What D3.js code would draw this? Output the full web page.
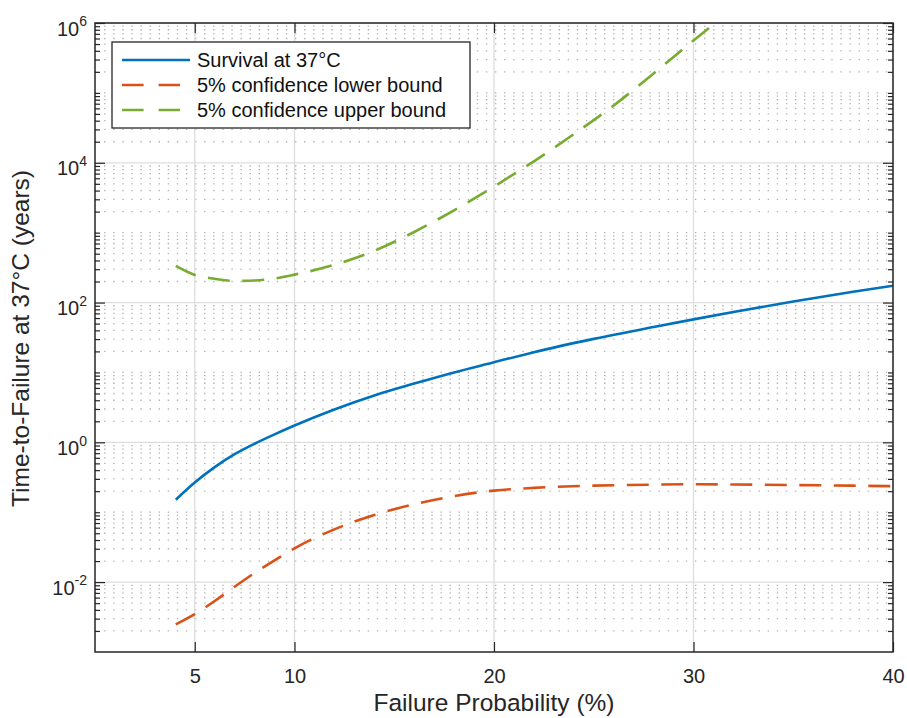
<!DOCTYPE html>
<html lang="en">
<head>
<meta charset="utf-8">
<title>Time-to-Failure at 37°C</title>
<style>
  body { margin: 0; background: #fff; }
  svg { font-family: "Liberation Sans", Arial, Helvetica, sans-serif; }
  .grid-major line { stroke: #dedede; stroke-width: 1.3; }
  .grid-minor line { stroke: #b2b2b2; stroke-width: 1.3; stroke-dasharray: 1.4, 7.69; }
  .axis .domain { display: none; }
  .axis line { stroke: #262626; stroke-width: 1.2; }
  .axis text { fill: #262626; }
</style>
</head>
<body>
<script src="https://cdn.jsdelivr.net/npm/d3@7"></script>
<script>

// values (failure probability in %, time in years)
var failProb   = [4.05, 5, 6, 7, 8, 9, 10, 12, 14, 16, 18, 20, 22, 25, 28, 30, 32, 35, 38, 40];
var survival   = [0.151, 0.266, 0.442, 0.676, 0.955, 1.30, 1.74, 2.95, 4.68, 6.92, 10, 13.96, 19.5, 30.2, 44.7, 57.5, 73.3, 103.5, 142.9, 173.8];
var lowerBound = [0.00248, 0.00347, 0.00537, 0.0086, 0.0135, 0.0204, 0.0305, 0.0569, 0.0912, 0.130, 0.170, 0.204, 0.223, 0.240, 0.248, 0.251, 0.249, 0.245, 0.240, 0.236];
// the upper bound runs out of the top of the plot a little after 30%
var upperProb  = [4.05, 5, 6, 7, 8, 9, 10, 12, 14, 16, 18, 20, 22, 24, 26, 28, 30, 31, 32];
var upperBound = [334, 248, 219, 204, 207, 221, 251, 347, 550, 1023, 2090, 4570, 10500, 25700, 66000, 190000, 562000, 955000, 1660000];

var xTicks = [5, 10, 20, 30, 40];
var yTickExp = [-2, 0, 2, 4, 6];
var seriesNames = ["Survival at 37°C", "5% confidence lower bound", "5% confidence upper bound"];
var seriesColors = ["#0072BD", "#D95319", "#77AC30"];
var seriesDash = [null, "22,12.5", "22,12.5"];

var W = 907, H = 718;
var m = {left: 95, top: 23, right: 14, bottom: 66};
var w = W - m.left - m.right;
var h = H - m.top - m.bottom;

var x = d3.scaleLinear().domain([0, 40]).range([0, w]);
var y = d3.scaleLog().domain([1e-3, 1e6]).range([h, 0]);

var yMajor = yTickExp.map(function(e) { return Math.pow(10, e); });
// log minor ticks: 1..9 x 10^k, without the labelled decades
var yMinor = [];
for (var k = -3; k < 6; k++) {
  for (var j = 1; j < 10; j++) {
    var v = j * Math.pow(10, k);
    if (j == 1 && yTickExp.indexOf(k) >= 0) continue;
    if (k == -3 && j == 1) continue;
    yMinor.push(v);
  }
}

var svg = d3.select("body").append("svg").attr("width", W).attr("height", H);
var g = svg.append("g").attr("transform", "translate(" + m.left + "," + m.top + ")");

svg.append("defs").append("clipPath").attr("id", "plotclip")
  .append("rect").attr("width", w).attr("height", h);

//grid
g.append("g").attr("class", "grid-minor").selectAll("line").data(yMinor).join("line")
  .attr("x1", 0).attr("x2", w)
  .attr("y1", function(d) { return y(d); }).attr("y2", function(d) { return y(d); });
g.append("g").attr("class", "grid-major").selectAll("line").data(yMajor).join("line")
  .attr("x1", 0).attr("x2", w)
  .attr("y1", function(d) { return y(d); }).attr("y2", function(d) { return y(d); });
g.append("g").attr("class", "grid-major").selectAll("line").data(xTicks).join("line")
  .attr("y1", 0).attr("y2", h)
  .attr("x1", function(d) { return x(d); }).attr("x2", function(d) { return x(d); });

//curves
var line = d3.line()
  .x(function(d) { return x(d[0]); })
  .y(function(d) { return y(d[1]); })
  .curve(d3.curveMonotoneX);

var series = [d3.zip(failProb, survival), d3.zip(failProb, lowerBound), d3.zip(upperProb, upperBound)];
var lines = g.append("g").attr("clip-path", "url(#plotclip)");
series.forEach(function(s, i) {
  lines.append("path")
    .datum(s)
    .attr("d", line)
    .attr("fill", "none")
    .attr("stroke", seriesColors[i])
    .attr("stroke-width", 2.6)
    .attr("stroke-dasharray", seriesDash[i]);
});

//axes (ticks point inwards on all four sides)
var noLabel = function() { return ""; };
g.append("g").attr("class", "axis")
  .call(d3.axisLeft(y).tickValues(yMinor).tickSize(-5).tickSizeOuter(0).tickFormat(noLabel));
g.append("g").attr("class", "axis").attr("transform", "translate(" + w + ",0)")
  .call(d3.axisRight(y).tickValues(yMinor).tickSize(-5).tickSizeOuter(0).tickFormat(noLabel));
g.append("g").attr("class", "axis").attr("transform", "translate(" + w + ",0)")
  .call(d3.axisRight(y).tickValues(yMajor).tickSize(-10).tickSizeOuter(0).tickFormat(noLabel));
g.append("g").attr("class", "axis")
  .call(d3.axisTop(x).tickValues(xTicks).tickSize(-10).tickSizeOuter(0).tickFormat(noLabel));

var yAxis = g.append("g").attr("class", "axis")
  .call(d3.axisLeft(y).tickValues(yMajor).tickSize(-10).tickSizeOuter(0).tickPadding(8).tickFormat(noLabel));
yAxis.selectAll(".tick text")
  .attr("dy", null).attr("y", 12).attr("font-size", 20)
  .each(function(d, i) {
    var t = d3.select(this);
    t.append("tspan").text("10");
    t.append("tspan").attr("font-size", 14).attr("dy", -9.3).text(yTickExp[i]);
  });

var xAxis = g.append("g").attr("class", "axis").attr("transform", "translate(0," + h + ")")
  .call(d3.axisBottom(x).tickValues(xTicks).tickSize(-10).tickSizeOuter(0).tickPadding(16.8).tickFormat(d3.format("d")));
xAxis.selectAll(".tick text").attr("font-size", 20);

// box
g.append("rect").attr("width", w).attr("height", h)
  .attr("fill", "none").attr("stroke", "#262626").attr("stroke-width", 1.5);

//axis labels
svg.append("text")
  .attr("x", m.left + w / 2).attr("y", 711)
  .attr("text-anchor", "middle").attr("font-size", 24.5).attr("fill", "#262626")
  .text("Failure Probability (%)");
svg.append("text")
  .attr("transform", "translate(29," + (m.top + h / 2 + 1) + ") rotate(-90)")
  .attr("text-anchor", "middle").attr("font-size", 24.5).attr("fill", "#262626")
  .text("Time-to-Failure at 37°C (years)");

//legend
var lg = svg.append("g").attr("transform", "translate(112,42)");
lg.append("rect").attr("width", 358).attr("height", 86)
  .attr("fill", "#fff").attr("stroke", "#262626").attr("stroke-width", 1.3);
var item = lg.selectAll("g.item").data(seriesNames).join("g").attr("class", "item")
  .attr("transform", function(d, i) { return "translate(0," + (18 + i * 25) + ")"; });
item.append("line")
  .attr("x1", 10).attr("x2", function(d, i) { return i == 0 ? 78 : 68; })
  .attr("stroke", function(d, i) { return seriesColors[i]; })
  .attr("stroke-width", 2.6)
  .attr("stroke-dasharray", function(d, i) { return i == 0 ? null : "21.6,15"; });
item.append("text")
  .attr("x", 85).attr("y", 7)
  .attr("font-size", 20).attr("fill", "#111")
  .text(function(d) { return d; });

</script>
</body>
</html>
